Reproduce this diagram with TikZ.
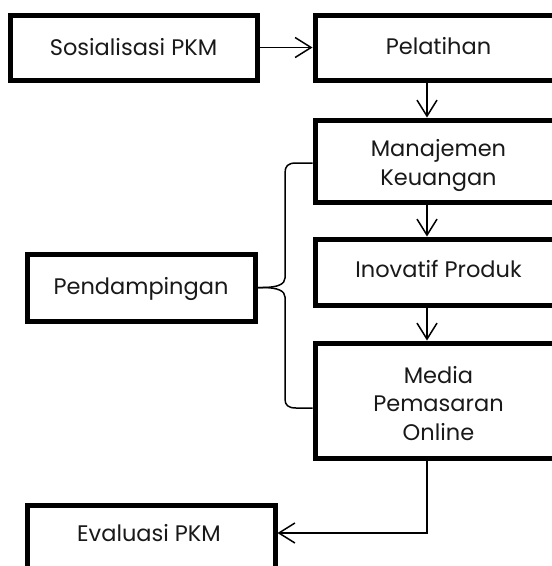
\documentclass[tikz,border=0pt]{standalone}
\usepackage{fontspec}
\setmainfont{Poppins}
\usetikzlibrary{arrows.meta}
\tikzset{
  box/.style={draw=black, line width=5pt, rectangle, inner sep=0pt, fill=white},
  lbl/.style={anchor=base, align=center, inner sep=0pt, text=black!90,
    font=\fontsize{22.5}{28.5}\selectfont},
  conn/.style={draw=black, line width=1.5pt},
  arr/.style={conn, -{Straight Barb[length=16pt,width=20pt]}},
}
\begin{document}
\begin{tikzpicture}[x=1pt,y=-1pt]
\useasboundingbox (0,0) rectangle (552,566);
\clip (0,0) rectangle (552,566);
\fill[white] (0,0) rectangle (552,566);
% boxes
\node[box, minimum width=247pt, minimum height=65pt] (sos) at (133.5,47.5) {};
\node[box, minimum width=247pt, minimum height=65pt] (pel) at (438.5,47.5) {};
\node[box, minimum width=247pt, minimum height=82pt] (man) at (438.5,161) {};
\node[box, minimum width=247pt, minimum height=66pt] (ino) at (438.5,272) {};
\node[box, minimum width=247pt, minimum height=115pt] (med) at (438.5,400.5) {};
\node[box, minimum width=228pt, minimum height=67pt] (pen) at (141,287.5) {};
\node[box, minimum width=248pt, minimum height=70pt] (eva) at (151,540.5) {};
% texts
\node[lbl] (tsos) at (133.5,55) {Sosialisasi PKM};
\node[lbl] (tpel) at (438.5,54) {Pelatihan};
\node[lbl] (tman) at (438.5,185) {Manajemen\\Keuangan};
\node[lbl] (tino) at (438.5,277) {Inovatif Produk};
\node[lbl] (tmed) at (438.5,440) {Media\\Pemasaran\\Online};
\node[lbl] (tpen) at (141,294) {Pendampingan};
\node[lbl] (teva) at (149,541) {Evaluasi PKM};
% connectors
\coordinate (ax) at (427,0);
\draw[arr] (sos.east) -- (pel.west);
\draw[arr] (pel.south -| ax) -- (man.north -| ax);
\draw[arr] (man.south -| ax) -- (ino.north -| ax);
\draw[arr] (ino.south -| ax) -- (med.north -| ax);
\draw[arr] (med.south -| ax) |- ([yshift=7.5pt]eva.east);
% brace
\draw[conn] (pen.east) -- ++(5,0) .. controls (278,287.5) and (285,284) .. (285,278)
  -- (285,173) .. controls (285,166) and (288,163) .. (296,163) -- (man.west |- 0,163);
\draw[conn] (pen.east) -- ++(5,0) .. controls (278,287.5) and (285,291) .. (285,297)
  -- (285,399) .. controls (285,405) and (288,408) .. (296,408) -- (med.west |- 0,408);
\end{tikzpicture}
\end{document}
